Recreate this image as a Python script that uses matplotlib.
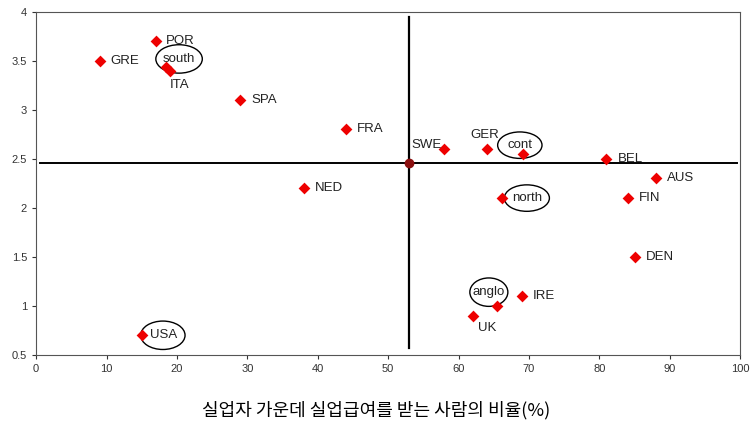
"""Scatter of unemployment benefit coverage vs. index, with country groups."""
import matplotlib.pyplot as plt
from matplotlib.patches import Ellipse

plt.rcParams['font.family'] = ['Liberation Sans', 'DejaVu Sans']

# country points
countries = ['GRE', 'POR', 'ITA', 'SPA', 'FRA', 'NED', 'SWE', 'GER', 'BEL',
             'AUS', 'FIN', 'DEN', 'IRE', 'UK', 'USA']
x_vals = [9, 17, 19, 29, 44, 38, 58, 64, 81, 88, 84, 85, 69, 62, 15]
y_vals = [3.5, 3.7, 3.4, 3.1, 2.8, 2.2, 2.6, 2.6, 2.5, 2.3, 2.1, 1.5, 1.1, 0.9, 0.7]

# group averages (circled labels)
groups = ['south', 'cont', 'north', 'anglo']
gx = [18.5, 69.2, 66.2, 65.5]
gy = [3.44, 2.55, 2.1, 1.0]

# overall mean (crosshair)
mean_x, mean_y = 53, 2.46

# label offsets in points (dx, dy, ha, va)
offsets = {
    'POR': (7, 0, 'left', 'center'), 'ITA': (0, -10, 'left', 'center'),
    'SWE': (-2, 3, 'right', 'center'), 'GER': (-12, 10, 'left', 'center'),
    'UK': (4, -9, 'left', 'center'), 'USA': (6, 0, 'left', 'center'),
}

fig = plt.figure(figsize=(7.53, 4.25), dpi=100)
ax = fig.add_axes([0.048, 0.165, 0.935, 0.807])

ax.plot([0.5, 99.5], [mean_y, mean_y], color='black', lw=1.4, zorder=1)
ax.plot([mean_x, mean_x], [0.57, 3.95], color='black', lw=1.6, zorder=1)
ax.plot(mean_x, mean_y, marker='o', color='#8b1010', ms=6, zorder=3)

ax.scatter(x_vals, y_vals, marker='D', color='#ee0000', s=36, zorder=3, linewidths=0)
ax.scatter(gx, gy, marker='D', color='#ee0000', s=36, zorder=3, linewidths=0)

for name, x, y in zip(countries, x_vals, y_vals):
    dx, dy, ha, va = offsets.get(name, (8, 0, 'left', 'center'))
    ax.annotate(name, (x, y), xytext=(dx, dy), textcoords='offset points',
                ha=ha, va=va, fontsize=9.5, color='#222222')

# circled group labels: (text x, text y, width, height)
circles = {
    'south': (20.3, 3.52, 6.6, 0.29),
    'cont': (68.7, 2.64, 6.3, 0.27),
    'north': (69.7, 2.1, 6.4, 0.27),
    'anglo': (64.3, 1.14, 5.4, 0.29),
}
for name, (cx, cy, w, h) in circles.items():
    ax.add_patch(Ellipse((cx, cy), w, h, fill=False, edgecolor='black', lw=1.0, zorder=2))
    ax.text(cx, cy, name, ha='center', va='center', fontsize=9.5, color='#222222')
ax.add_patch(Ellipse((18.0, 0.7), 6.3, 0.29, fill=False, edgecolor='black', lw=1.0, zorder=2))

ax.set_xlim(0, 100)
ax.set_ylim(0.5, 4)
ax.set_xticks(range(0, 101, 10))
ax.set_yticks([0.5, 1, 1.5, 2, 2.5, 3, 3.5, 4])
ax.set_yticklabels(['0.5', '1', '1.5', '2', '2.5', '3', '3.5', '4'])
ax.tick_params(labelsize=8, length=3, colors='#333333')
for sp in ax.spines.values():
    sp.set_color('#555555')

fig.text(0.5, 0.035, '실업자 가운데 실업급여를 받는 사람의 비율(%)', ha='center', va='center',
         fontsize=13, family=['Noto Sans CJK KR', 'DejaVu Sans'])

fig.savefig('out.png', dpi=100)
